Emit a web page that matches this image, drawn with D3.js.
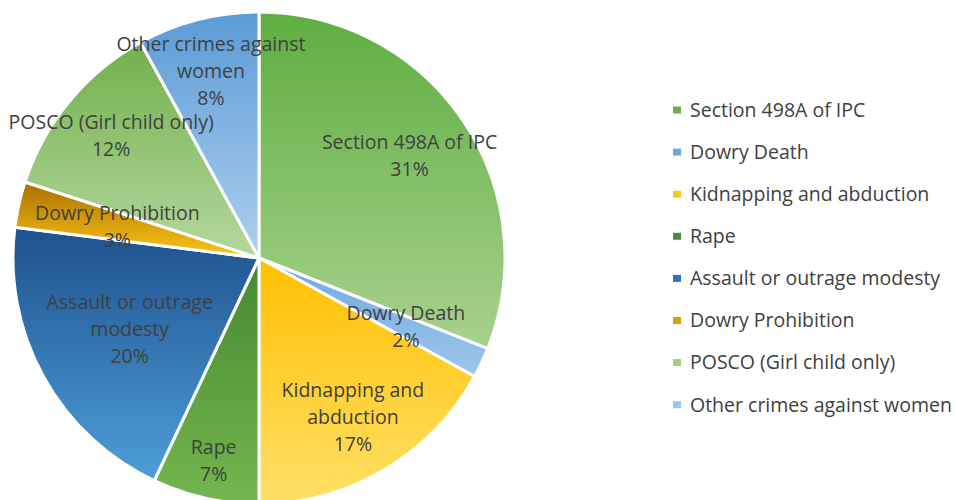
<!DOCTYPE html>
<html>
<head>
<meta charset="utf-8">
<script src="https://cdn.jsdelivr.net/npm/d3@7"></script>
<style>
  html, body { margin: 0; padding: 0; background: #fff; }
  svg { display: block; }
  text { font-family: "Open Sans", Lato, sans-serif; fill: #404040; }
</style>
</head>
<body>
<svg id="chart" width="954" height="500"></svg>
<script>
// Share of crimes against women, by category (percent)
const categories = [
  "Section 498A of IPC",
  "Dowry Death",
  "Kidnapping and abduction",
  "Rape",
  "Assault or outrage modesty",
  "Dowry Prohibition",
  "POSCO (Girl child only)",
  "Other crimes against women"
];
const shares = [31, 2, 17, 7, 20, 3, 12, 8];

// Slice fills: gradient top colour, bottom colour, and legend swatch
const gradTop    = ["#5eae40", "#6ea8de", "#ffc000", "#458932", "#1d518e", "#a87000", "#72b04c", "#5a9bd6"];
const gradBottom = ["#a9d18e", "#9dc6ec", "#ffe066", "#74b64e", "#4e9ed9", "#ffc617", "#b5d89e", "#aed0ef"];
const swatch     = ["#70ad47", "#6aa8e0", "#ffc81f", "#4a8c36", "#2e75b6", "#dca000", "#9fd085", "#9dc8ee"];

// Label distance from the centre, as a fraction of the radius
const labelRadius = [0.74, 0.66, 0.75, 0.845, 0.60, 0.59, 0.78, 0.785];

const svg = d3.select("#chart");
const cx = 259, cy = 258, R = 246;
const fontSize = 19.5, lineH = 27, wrapWidth = 215;

const defs = svg.append("defs");
categories.forEach((c, i) => {
  const g = defs.append("linearGradient")
    .attr("id", "g" + i)
    .attr("x1", 0).attr("y1", 0).attr("x2", 0).attr("y2", 1);
  g.append("stop").attr("offset", "0%").attr("stop-color", gradTop[i]);
  g.append("stop").attr("offset", "100%").attr("stop-color", gradBottom[i]);
});

const data = categories.map((c, i) => ({ name: c, value: shares[i], i }));
const pie = d3.pie().value(d => d.value).sort(null);
const arcs = pie(data);
const arc = d3.arc().innerRadius(0).outerRadius(R);

const pieG = svg.append("g").attr("transform", `translate(${cx},${cy})`);

pieG.selectAll("path.slice")
  .data(arcs)
  .join("path")
  .attr("class", "slice")
  .attr("d", arc)
  .attr("fill", d => `url(#g${d.data.i})`)
  .attr("stroke", "#fff")
  .attr("stroke-width", 3)
  .attr("stroke-linejoin", "round");

// Word wrap a label to the given width
const measure = svg.append("text").attr("font-size", fontSize).attr("visibility", "hidden");
function wrap(str) {
  const words = str.split(" ");
  const lines = [];
  let cur = "";
  words.forEach(w => {
    const test = cur ? cur + " " + w : w;
    measure.text(test);
    if (cur && measure.node().getComputedTextLength() > wrapWidth) {
      lines.push(cur);
      cur = w;
    } else {
      cur = test;
    }
  });
  if (cur) lines.push(cur);
  return lines;
}

pieG.selectAll("text.lbl")
  .data(arcs)
  .join("text")
  .attr("class", "lbl")
  .attr("font-size", fontSize)
  .attr("text-anchor", "middle")
  .each(function (d) {
    const r = R * labelRadius[d.data.i];
    const c = d3.arc().innerRadius(r).outerRadius(r).centroid(d);
    const lines = wrap(d.data.name).concat([d.data.value + "%"]);
    const top = c[1] - (lines.length - 1) * lineH / 2;
    const t = d3.select(this);
    lines.forEach((ln, k) => {
      t.append("tspan")
        .attr("x", c[0])
        .attr("y", top + k * lineH)
        .attr("dy", "0.35em")
        .text(ln);
    });
  });
measure.remove();

// Legend
const legend = svg.append("g").attr("transform", "translate(673,110)");
const rows = legend.selectAll("g")
  .data(data)
  .join("g")
  .attr("transform", d => `translate(0,${d.i * 42.1})`);
rows.append("rect")
  .attr("x", 0).attr("y", -3.5)
  .attr("width", 8).attr("height", 7)
  .attr("fill", d => swatch[d.i]);
rows.append("text")
  .attr("x", 17).attr("y", 0).attr("dy", "0.35em")
  .attr("font-size", fontSize)
  .text(d => d.name);
</script>
</body>
</html>
